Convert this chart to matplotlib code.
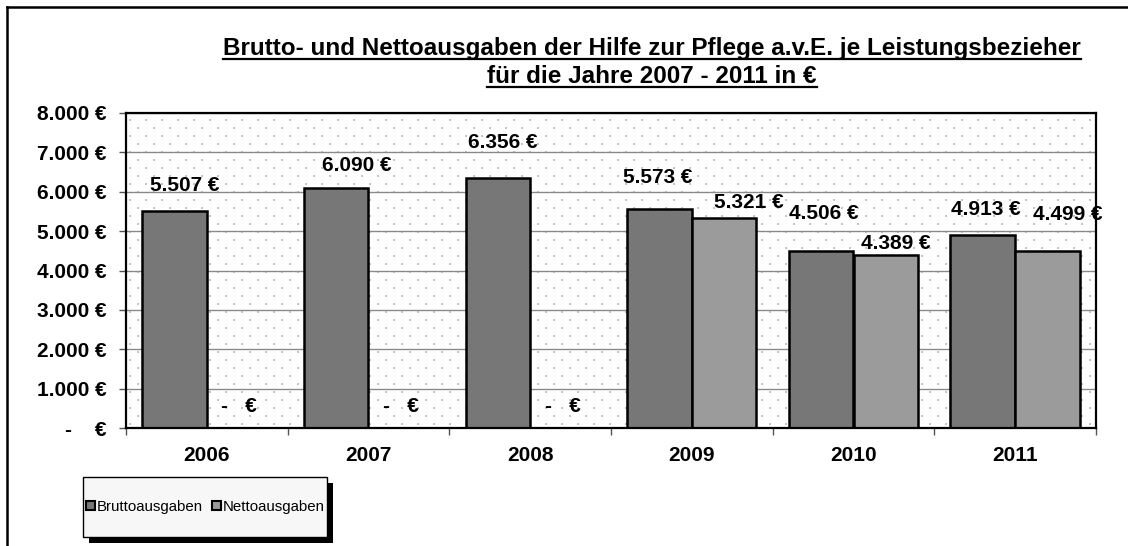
import matplotlib
matplotlib.use("Agg")
import matplotlib.pyplot as plt
import numpy as np
from matplotlib.lines import Line2D
from matplotlib.patches import Patch, Rectangle

# ---------------------------------------------------------------------------
# Data
# ---------------------------------------------------------------------------
years = ["2006", "2007", "2008", "2009", "2010", "2011"]
brutto = [5507, 6090, 6356, 5573, 4506, 4913]
netto = [0, 0, 0, 5321, 4389, 4499]
series_names = ["Bruttoausgaben", "Nettoausgaben"]
y_ticks = [0, 1000, 2000, 3000, 4000, 5000, 6000, 7000, 8000]
title_lines = [
    "Brutto- und Nettoausgaben der Hilfe zur Pflege a.v.E. je Leistungsbezieher",
    "für die Jahre 2007 - 2011 in €",
]

# label offsets (pixels) from top centre of each bar, as placed in the original
brutto_offsets = [(10, 26), (21, 23), (5, 35), (-2, 31), (3, 37), (3, 25)]
netto_offsets = [(0, 22), (0, 22), (0, 22), (25, 16), (10, 12), (20, 36)]

C_BRUTTO = "#777777"
C_NETTO = "#9b9b9b"
FONT = "Liberation Sans"


def euro(v):
    if v == 0:
        return "-   €"
    return f"{v:,.0f} €".replace(",", ".")


plt.rcParams["font.family"] = [FONT, "DejaVu Sans"]

fig = plt.figure(figsize=(11.28, 5.46), dpi=100)
W, H = 1128, 546
AX_L, AX_R, AX_T, AX_B = 126, 1096, 113, 428
ax = fig.add_axes([AX_L / W, 1 - AX_B / H, (AX_R - AX_L) / W, (AX_B - AX_T) / H])

# dotted plot-area background (Excel "5%" pattern): staggered grey dots
bg = fig.add_axes(ax.get_position(), zorder=-1)
bg.set_xlim(0, AX_R - AX_L)
bg.set_ylim(0, AX_B - AX_T)
bg.axis("off")
rows = np.arange(4, AX_B - AX_T, 8)
for k, ry in enumerate(rows):
    cx = np.arange(4 + (k % 2) * 8, AX_R - AX_L, 16)
    bg.scatter(cx, np.full_like(cx, ry, dtype=float), s=1.4, color="#c4c4c4",
               linewidths=0, marker="s")
ax.patch.set_alpha(0)

x = np.arange(len(years))
bw = 0.4
ax.bar(x - bw / 2, brutto, bw, color=C_BRUTTO, edgecolor="black", linewidth=1.8, zorder=3)
ax.bar(x + bw / 2, netto, bw, color=C_NETTO, edgecolor="black", linewidth=1.8, zorder=3)

for i in range(len(years)):
    ax.annotate(euro(brutto[i]), xy=(x[i] - bw / 2, brutto[i]),
                xytext=brutto_offsets[i], textcoords="offset pixels",
                ha="center", va="center", fontsize=15, fontweight="bold", zorder=5)
    ax.annotate(euro(netto[i]), xy=(x[i] + bw / 2, netto[i]),
                xytext=netto_offsets[i], textcoords="offset pixels",
                ha="center", va="center", fontsize=15, fontweight="bold", zorder=5)

ax.set_xlim(-0.5, len(years) - 0.5)
ax.set_ylim(0, 8000)
ax.set_yticks(y_ticks)
ax.set_yticklabels([euro(v).replace("-   €", "-    €") for v in y_ticks],
                   fontsize=15, fontweight="bold")
ax.set_xticks(x)
ax.set_xticklabels(years, fontsize=15, fontweight="bold")
ax.set_xticks(np.arange(-0.5, len(years)), minor=True)
ax.tick_params(axis="x", which="major", length=0, pad=13)
ax.tick_params(axis="x", which="minor", length=5, width=1, color="#555555")
ax.tick_params(axis="y", length=5, width=1, color="#555555", pad=9)

ax.grid(axis="y", color="#8a8a8a", linewidth=1.0, zorder=1)
ax.set_axisbelow(True)
for sp in ax.spines.values():
    sp.set_linewidth(1.6)
    sp.set_color("black")
    sp.set_zorder(6)

# titles, underlined
title_texts = []
for line, yb in zip(title_lines, [55, 83]):
    t = fig.text(652 / W, 1 - yb / H, line, ha="center", va="baseline",
                 fontsize=17.5, fontweight="bold")
    title_texts.append((t, yb))

fig.canvas.draw()
for t, yb in title_texts:
    bb = t.get_window_extent()
    uy = 1 - (yb + 4) / H
    fig.add_artist(Line2D([bb.x0 / W, bb.x1 / W], [uy, uy], color="black",
                          linewidth=1.6, transform=fig.transFigure))

# outer chart border (top and left visible)
fig.add_artist(Line2D([7 / W, 1], [1 - 7 / H, 1 - 7 / H], color="black",
                      linewidth=1.8, transform=fig.transFigure))
fig.add_artist(Line2D([7 / W, 7 / W], [0, 1 - 7 / H], color="black",
                      linewidth=1.8, transform=fig.transFigure))

# legend box with shadow
lx0, lx1, ly0, ly1 = 83, 327, 477, 537
fig.add_artist(Rectangle(((lx0 + 6) / W, 1 - (ly1 + 6) / H), (lx1 - lx0) / W,
                         (ly1 - ly0) / H, facecolor="black", edgecolor="none",
                         transform=fig.transFigure, zorder=1))
fig.add_artist(Rectangle((lx0 / W, 1 - ly1 / H), (lx1 - lx0) / W, (ly1 - ly0) / H,
                         facecolor="#f7f7f7", edgecolor="black", linewidth=1.0,
                         transform=fig.transFigure, zorder=2))
handles = [Patch(facecolor=C_BRUTTO, edgecolor="black", linewidth=1.5),
           Patch(facecolor=C_NETTO, edgecolor="black", linewidth=1.5)]
leg = fig.legend(handles, series_names, loc="center",
                 bbox_to_anchor=((lx0 + lx1) / 2 / W, 1 - (ly0 + ly1) / 2 / H),
                 ncol=2, frameon=False, fontsize=10.8, handlelength=0.6,
                 handleheight=0.6, handletextpad=0.12, columnspacing=0.6)
leg.set_zorder(3)

fig.savefig("out.png", dpi=100)
